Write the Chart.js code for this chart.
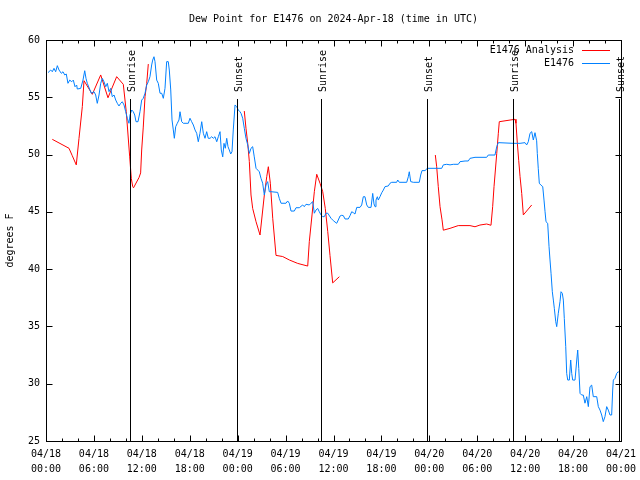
<!DOCTYPE html>
<html>
<head>
<meta charset="utf-8">
<title>Dew Point for E1476</title>
<script src="https://cdn.jsdelivr.net/npm/chart.js@4/dist/chart.umd.min.js"></script>
<style>
  html, body { margin: 0; background: #fff; }
  canvas { display: block; }
</style>
</head>
<body>
<canvas id="chartDewPoint" width="640" height="480"></canvas>
<script>
// Dados (horas desde 04/18 00:00 UTC, ponto de orvalho em °F)
const chartTitle = 'Dew Point for E1476 on 2024-Apr-18 (time in UTC)';
const yAxisTitle = 'degrees F';
const seriesNames = ['E1476 Analysis', 'E1476'];

const xTickLabels = [
  ['04/18', '00:00'], ['04/18', '06:00'], ['04/18', '12:00'], ['04/18', '18:00'],
  ['04/19', '00:00'], ['04/19', '06:00'], ['04/19', '12:00'], ['04/19', '18:00'],
  ['04/20', '00:00'], ['04/20', '06:00'], ['04/20', '12:00'], ['04/20', '18:00'],
  ['04/21', '00:00']
];
const yMin = 25;
const yMax = 60;

// nascer / pôr do sol
const eventHours = [10.5, 23.9, 34.45, 47.75, 58.5, 71.8];
const eventNames = ['Sunrise', 'Sunset', 'Sunrise', 'Sunset', 'Sunrise', 'Sunset'];

// análise (null = quebra na linha)
const analysisPoints = [
  [0.79, 51.33], [2.88, 50.55], [3.29, 49.9], [3.79, 49.1], [4.13, 51.4], [4.55, 54.2],
  [4.76, 56.45], [5.80, 55.26], [6.85, 56.95], [7.76, 54.96], [8.85, 56.8], [9.68, 56.13],
  [10.05, 53.74], [10.48, 49.8], [10.68, 47.93], [10.86, 47.2], [10.96, 47.1], [11.65, 48.0],
  [11.85, 48.4], [11.98, 50.4], [12.18, 52.4], [12.40, 55.05], [12.61, 56.2], [12.81, 57.9],
  [18.0, null],
  [24.83, 53.8], [25.04, 52.3], [25.26, 50.98], [25.46, 49.4], [25.67, 46.47], [25.88, 45.3],
  [26.30, 44.14], [26.80, 42.98], [27.34, 46.47], [27.64, 48.07], [27.84, 48.94], [28.09, 47.5],
  [28.39, 44.44], [28.80, 41.2], [29.64, 41.1], [30.47, 40.8], [31.52, 40.5], [32.77, 40.27],
  [32.97, 42.4], [33.31, 44.73], [33.60, 46.76], [33.90, 48.28], [34.31, 47.5], [34.65, 46.76],
  [34.97, 45.3], [35.28, 43.27], [35.56, 41.2], [35.90, 38.8], [36.73, 39.34],
  [42.0, null],
  [48.75, 49.96], [48.92, 48.94], [49.12, 47.2], [49.34, 45.45], [49.59, 44.3], [49.75, 43.4],
  [50.59, 43.56], [51.62, 43.8], [53.09, 43.8], [53.72, 43.7], [54.34, 43.85], [55.18, 43.94],
  [55.72, 43.83], [55.93, 45.45], [56.10, 47.2], [56.44, 50.1], [56.64, 51.86], [56.76, 52.87],
  [58.73, 53.08], [58.85, 52.73], [59.02, 51.0], [59.19, 49.5], [59.36, 48.07], [59.57, 46.6],
  [59.77, 44.73], [60.82, 45.6]
];

// observações da estação
const obsPoints = [
  [0.25, 57.15], [0.59, 57.38], [0.79, 57.23], [1.00, 57.53], [1.21, 57.23], [1.42, 57.76],
  [1.63, 57.38], [1.92, 57.09], [2.13, 57.23], [2.34, 56.95], [2.54, 57.03], [2.75, 56.22],
  [2.97, 56.5], [3.22, 56.36], [3.42, 56.5], [3.63, 55.92], [3.84, 56.07], [3.92, 55.72],
  [4.35, 55.78], [4.63, 56.5], [4.85, 57.32], [5.01, 56.65], [5.17, 56.22], [5.47, 55.7],
  [5.67, 55.35], [6.01, 55.49], [6.22, 55.2], [6.42, 54.47], [6.64, 55.2], [6.85, 56.22],
  [7.05, 56.65], [7.26, 56.36], [7.48, 55.92], [7.68, 56.22], [7.89, 55.49], [8.10, 55.78],
  [8.30, 55.05], [8.52, 55.2], [8.73, 54.76], [8.93, 54.47], [9.14, 54.24], [9.35, 54.47],
  [9.55, 54.61], [9.77, 54.33], [9.98, 53.74], [10.18, 53.17], [10.39, 52.73], [10.52, 53.45],
  [10.73, 53.89], [10.93, 53.74], [11.11, 53.45], [11.27, 52.87], [11.52, 52.87], [11.77, 53.74],
  [11.98, 54.76], [12.18, 54.91], [12.40, 55.35], [12.61, 56.07], [12.81, 56.36], [13.02, 56.8],
  [13.23, 57.82], [13.36, 58.25], [13.52, 58.54], [13.65, 58.11], [13.86, 56.5], [14.06, 56.22],
  [14.28, 55.35], [14.49, 55.35], [14.69, 54.91], [14.90, 55.78], [15.11, 58.11], [15.31, 58.11],
  [15.44, 57.38], [15.62, 55.64], [15.78, 53.02], [15.94, 52.15], [16.07, 51.42], [16.24, 52.43],
  [16.44, 52.73], [16.65, 53.02], [16.78, 53.74], [16.99, 52.87], [17.19, 52.73], [17.82, 52.73],
  [18.03, 53.17], [18.24, 52.87], [18.45, 52.58], [18.66, 52.15], [18.87, 51.86], [19.07, 51.12],
  [19.28, 51.86], [19.50, 52.87], [19.70, 51.86], [19.91, 51.42], [20.12, 52.0], [20.32, 51.42],
  [20.54, 51.42], [20.75, 51.56], [20.95, 51.42], [21.16, 51.56], [21.38, 51.12], [21.58, 51.56],
  [21.79, 52.0], [21.95, 50.4], [22.13, 49.8], [22.29, 50.98], [22.45, 50.55], [22.63, 51.42],
  [22.79, 50.69], [22.95, 50.4], [23.13, 50.05], [23.29, 50.25], [23.45, 52.15], [23.67, 54.33],
  [23.88, 54.18], [24.08, 53.89], [24.29, 53.74], [24.42, 53.6], [24.63, 53.17], [24.83, 52.3],
  [25.04, 51.42], [25.26, 50.84], [25.46, 50.1], [25.67, 50.55], [25.88, 50.69], [26.08, 49.8],
  [26.30, 48.8], [26.51, 48.65], [26.71, 48.5], [26.92, 47.93], [27.13, 47.5], [27.34, 46.47],
  [27.55, 47.35], [27.76, 47.64], [27.96, 46.76], [28.17, 46.76], [29.01, 46.7], [29.21, 46.18],
  [29.43, 45.75], [30.05, 45.75], [30.26, 45.95], [30.47, 45.75], [30.68, 45.07], [31.09, 45.07],
  [31.31, 45.36], [31.72, 45.36], [32.14, 45.6], [32.34, 45.45], [32.56, 45.66], [32.97, 45.6],
  [33.18, 45.75], [33.40, 45.89], [33.60, 44.88], [33.81, 45.16], [34.02, 45.3], [34.22, 45.01],
  [34.44, 44.73], [34.65, 44.58], [34.85, 44.58], [35.06, 44.88], [35.28, 44.88], [35.69, 44.44],
  [35.98, 44.23], [36.40, 44.0], [36.60, 44.29], [36.82, 44.64], [37.03, 44.7], [37.23, 44.67],
  [37.44, 44.38], [37.85, 44.38], [38.07, 44.67], [38.28, 45.01], [38.48, 44.93], [38.69, 44.81],
  [38.91, 45.39], [39.32, 45.39], [39.53, 45.6], [39.73, 46.32], [39.94, 46.32], [40.16, 45.6],
  [40.36, 45.39], [40.70, 45.39], [40.91, 46.61], [41.07, 45.69], [41.20, 45.45], [41.32, 46.03],
  [41.49, 46.32], [41.61, 46.03], [41.82, 46.32], [42.04, 46.67], [42.24, 46.9], [42.45, 47.2],
  [42.86, 47.26], [43.08, 47.5], [43.29, 47.58], [43.91, 47.58], [44.04, 47.78], [44.24, 47.58],
  [45.17, 47.58], [45.37, 48.07], [45.49, 48.5], [45.67, 47.64], [45.99, 47.58], [46.74, 47.58],
  [46.92, 48.22], [47.08, 48.6], [47.46, 48.6], [47.75, 48.8], [49.55, 48.8], [49.75, 49.1],
  [50.18, 49.15], [50.59, 49.1], [51.00, 49.15], [51.63, 49.15], [51.84, 49.38], [52.47, 49.44],
  [52.88, 49.44], [53.09, 49.67], [53.72, 49.76], [55.18, 49.76], [55.38, 49.96], [56.22, 49.96],
  [56.44, 50.69], [56.64, 51.04], [58.52, 50.98], [59.36, 50.98], [59.98, 51.04], [60.19, 50.84],
  [60.39, 51.12], [60.61, 51.86], [60.82, 52.0], [61.02, 51.27], [61.23, 51.91], [61.44, 51.2],
  [61.52, 50.1], [61.64, 48.8], [61.77, 47.5], [61.95, 47.35], [62.20, 47.2], [62.36, 46.03],
  [62.49, 45.01], [62.61, 44.14], [62.82, 44.0], [62.99, 41.96], [63.11, 40.8], [63.24, 39.64],
  [63.40, 38.03], [63.53, 37.3], [63.65, 36.58], [63.83, 35.41], [63.95, 34.98], [64.15, 36.15],
  [64.36, 37.16], [64.49, 38.03], [64.65, 37.89], [64.78, 37.3], [64.90, 35.7], [65.08, 33.23],
  [65.20, 30.9], [65.33, 30.32], [65.53, 30.32], [65.70, 32.07], [65.83, 30.9], [65.95, 30.32],
  [66.24, 30.32], [66.46, 32.07], [66.58, 32.94], [66.71, 31.34], [66.87, 29.16], [67.08, 29.01],
  [67.28, 29.01], [67.49, 28.3], [67.71, 28.87], [67.91, 28.0], [68.12, 29.74], [68.33, 29.88],
  [68.53, 28.87], [68.96, 28.87], [69.16, 28.0], [69.37, 27.7], [69.58, 27.27], [69.78, 26.69],
  [69.99, 27.12], [70.21, 28.0], [70.41, 27.7], [70.62, 27.27], [70.83, 27.27], [70.96, 29.45],
  [71.04, 30.32], [71.25, 30.47], [71.46, 30.9], [71.67, 31.05], [71.79, 30.96]
];

const FONTE = { family: '"DejaVu Sans Mono", monospace', size: 10 };
const FONTE_CSS = '10px "DejaVu Sans Mono", monospace';
const corAnalise = '#ff0000';
const corObs = '#0080ff';

function toXY(points) {
  return points.map(p => ({ x: p[0], y: p[1] }));
}

/**
 * Desenha moldura, ticks internos, linhas de nascer/pôr do sol, legenda e título
 */
const decoracao = {
  id: 'decoracao',
  afterDatasetsDraw(chart) {
    const { ctx, chartArea: a, scales: { x, y } } = chart;
    const L = Math.round(a.left) + 0.5;
    const R = Math.round(a.right) + 0.5;
    const T = Math.round(a.top) + 0.5;
    const B = Math.round(a.bottom) + 0.5;

    ctx.save();
    ctx.strokeStyle = '#000';
    ctx.lineWidth = 1;

    // ticks do eixo x (maior a cada 6h, menor a cada 2h)
    for (let h = 0; h <= 72; h += 2) {
      const len = h % 6 === 0 ? 6 : 3;
      const px = Math.round(x.getPixelForValue(h)) + 0.5;
      ctx.beginPath();
      ctx.moveTo(px, B); ctx.lineTo(px, B - len);
      ctx.moveTo(px, T); ctx.lineTo(px, T + len);
      ctx.stroke();
    }
    // ticks do eixo y
    for (let v = yMin; v <= yMax; v += 5) {
      const py = Math.round(y.getPixelForValue(v)) + 0.5;
      ctx.beginPath();
      ctx.moveTo(L, py); ctx.lineTo(L + 6, py);
      ctx.moveTo(R, py); ctx.lineTo(R - 6, py);
      ctx.stroke();
    }

    // linhas verticais de eventos
    const topoEvento = Math.round(a.top + (a.bottom - a.top) * 0.147);
    ctx.font = FONTE_CSS;
    ctx.fillStyle = '#000';
    eventHours.forEach((h, i) => {
      const px = Math.round(x.getPixelForValue(h)) + 0.5;
      ctx.beginPath();
      ctx.moveTo(px, topoEvento);
      ctx.lineTo(px, B);
      ctx.stroke();
      ctx.save();
      ctx.translate(px + 1.5, topoEvento - 7);
      ctx.rotate(-Math.PI / 2);
      ctx.textAlign = 'left';
      ctx.textBaseline = 'middle';
      ctx.fillText(eventNames[i], 0, 0);
      ctx.restore();
    });

    // moldura
    ctx.strokeRect(L, T, R - L, B - T);

    // legenda
    const cores = [corAnalise, corObs];
    seriesNames.forEach((nome, i) => {
      const ly = Math.round(a.top + 10 + i * 12.5) + 0.5;
      ctx.fillStyle = '#000';
      ctx.textAlign = 'right';
      ctx.textBaseline = 'middle';
      ctx.fillText(nome, 574, ly);
      ctx.strokeStyle = cores[i];
      ctx.beginPath();
      ctx.moveTo(582, ly);
      ctx.lineTo(610, ly);
      ctx.stroke();
    });

    // título
    ctx.fillStyle = '#000';
    ctx.textAlign = 'center';
    ctx.textBaseline = 'middle';
    ctx.fillText(chartTitle, (a.left + a.right) / 2, 19);

    ctx.restore();
  }
};

function renderizarGrafico() {
  const ctx = document.getElementById('chartDewPoint');
  if (!ctx || typeof Chart === 'undefined') {
    console.warn('Canvas ou Chart não encontrado');
    return;
  }

  new Chart(ctx, {
    type: 'line',
    data: {
      datasets: [
        {
          label: seriesNames[1],
          data: toXY(obsPoints),
          borderColor: corObs,
          borderWidth: 1,
          pointRadius: 0,
          tension: 0,
          order: 0
        },
        {
          label: seriesNames[0],
          data: toXY(analysisPoints),
          borderColor: corAnalise,
          borderWidth: 1,
          pointRadius: 0,
          tension: 0,
          spanGaps: false,
          order: 1
        }
      ]
    },
    options: {
      responsive: false,
      animation: false,
      layout: { padding: { top: 40, right: 19, left: 0, bottom: 0 } },
      plugins: {
        legend: { display: false },
        tooltip: { enabled: false }
      },
      scales: {
        x: {
          type: 'linear',
          min: 0,
          max: 72,
          afterFit: s => {
            s.height = 39;
            s.paddingLeft = 0;
            s.paddingRight = 0;
          },
          grid: { display: false, drawTicks: false },
          border: { display: false },
          ticks: {
            stepSize: 6,
            autoSkip: false,
            maxRotation: 0,
            minRotation: 0,
            padding: 6,
            color: '#000',
            font: { ...FONTE, lineHeight: 1.5 },
            callback: (v, i) => xTickLabels[i]
          }
        },
        y: {
          min: yMin,
          max: yMax,
          afterFit: s => {
            s.width = 46;
            s.paddingTop = 0;
            s.paddingBottom = 0;
          },
          grid: { display: false, drawTicks: false },
          border: { display: false },
          title: {
            display: true,
            text: yAxisTitle,
            color: '#000',
            font: FONTE,
            padding: { top: 4, bottom: 0 }
          },
          ticks: {
            stepSize: 5,
            padding: 6,
            color: '#000',
            font: FONTE
          }
        }
      }
    },
    plugins: [decoracao]
  });
}

renderizarGrafico();
</script>
</body>
</html>
